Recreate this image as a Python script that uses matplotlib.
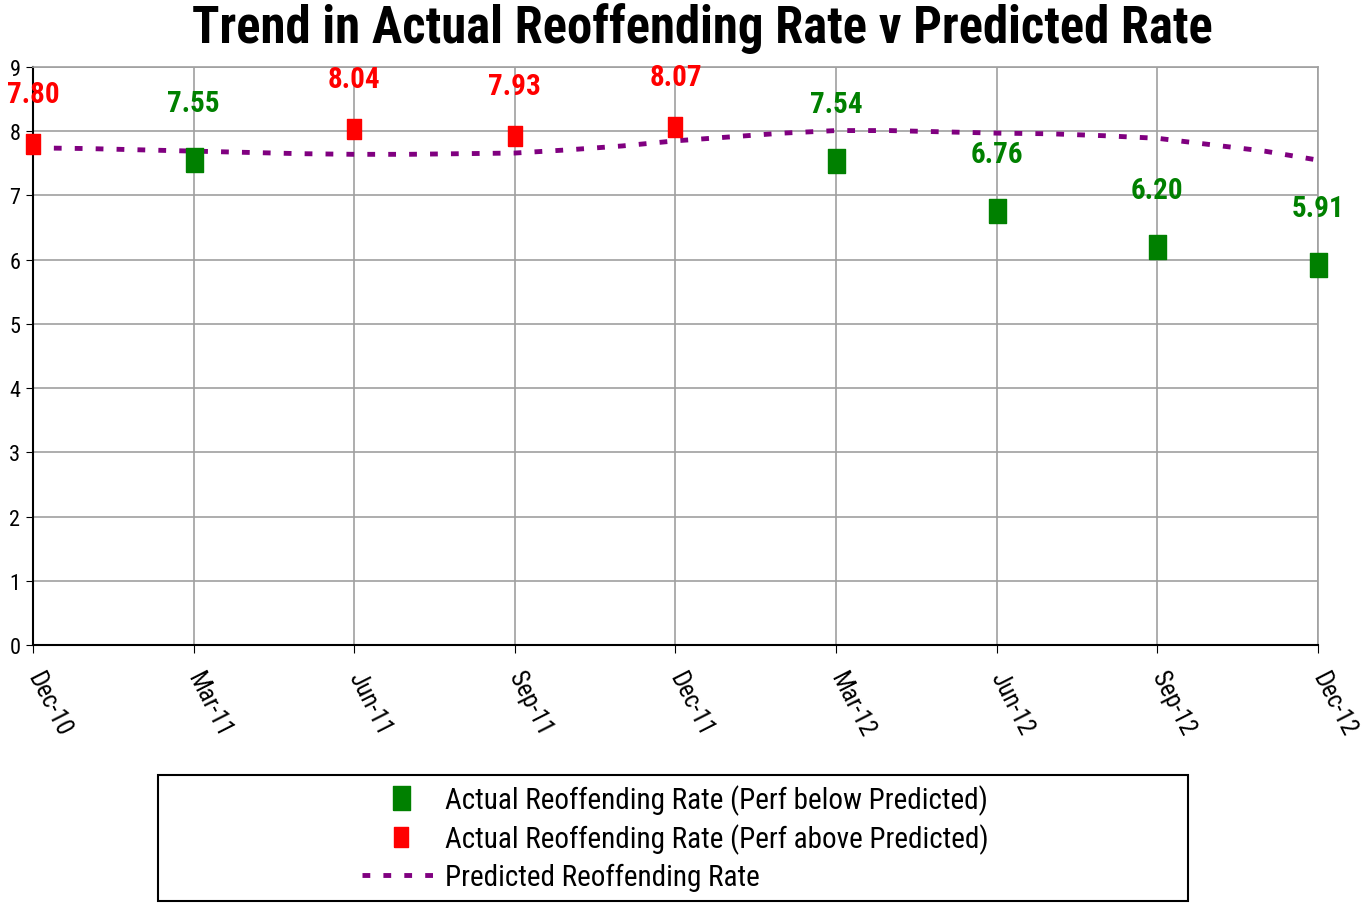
import matplotlib.pyplot as plt
from matplotlib.patches import Rectangle

plt.rcParams['font.family'] = ['Roboto Condensed', 'Liberation Sans', 'DejaVu Sans']

quarters = ["Dec-10", "Mar-11", "Jun-11", "Sep-11", "Dec-11", "Mar-12", "Jun-12", "Sep-12", "Dec-12"]
actual = [7.80, 7.55, 8.04, 7.93, 8.07, 7.54, 6.76, 6.20, 5.91]
above = [True, False, True, True, True, False, False, False, False]

# predicted rate, monthly Dec-10 .. Dec-12
predicted = [7.74, 7.73, 7.71, 7.69, 7.67, 7.65, 7.64, 7.64, 7.65, 7.66, 7.71, 7.77, 7.85,
             7.91, 7.97, 8.01, 8.01, 7.99, 7.97, 7.96, 7.93, 7.89, 7.79, 7.69, 7.55]

GREEN = '#008000'
RED = '#ff0000'
PURPLE = '#800080'

box = [(-0.36, -0.5), (0.36, -0.5), (0.36, 0.5), (-0.36, 0.5), (-0.36, -0.5)]

fig = plt.figure(figsize=(13.62, 9.04), dpi=100)
ax = fig.add_axes([0.0242, 0.2854, 0.9435, 0.6394])

xq = list(range(len(quarters)))
xm = [i / 3 for i in range(len(predicted))]

ax.plot(xm, predicted, color=PURPLE, lw=3.5, linestyle=(0, (1.6, 2.7)),
        label='Predicted Reoffending Rate', zorder=3)

xg = [x for x, a in zip(xq, above) if not a]
yg = [v for v, a in zip(actual, above) if not a]
xr = [x for x, a in zip(xq, above) if a]
yr = [v for v, a in zip(actual, above) if a]

ax.plot(xg, yg, linestyle='none', marker=box, ms=17, color=GREEN, mec=GREEN,
        label='Actual Reoffending Rate (Perf below Predicted)', zorder=4, clip_on=False)
ax.plot(xr, yr, linestyle='none', marker=box, ms=14, color=RED, mec=RED,
        label='Actual Reoffending Rate (Perf above Predicted)', zorder=4, clip_on=False)

for x, v, a in zip(xq, actual, above):
    ax.annotate(f"{v:.2f}", (x, v), xytext=(0, 36 if a else 41), textcoords='offset points',
                ha='center', va='center', fontsize=21, fontweight='bold',
                color=RED if a else GREEN, annotation_clip=False)

ax.set_xlim(0, 8)
ax.set_ylim(0, 9)
ax.set_yticks(range(10))
ax.set_xticks(xq)
ax.set_xticklabels(quarters, rotation=-63, ha='left', va='center',
                   rotation_mode='anchor', fontsize=18)
ax.tick_params(axis='y', labelsize=16, length=5, pad=4)
ax.tick_params(axis='x', length=6, pad=14)
ax.grid(True, color='#a0a0a0', lw=1.2)
for s in ['top', 'right']:
    ax.spines[s].set_color('#a0a0a0')
    ax.spines[s].set_linewidth(1.2)
for s in ['left', 'bottom']:
    ax.spines[s].set_color('black')
    ax.spines[s].set_linewidth(1.5)

fig.suptitle("Trend in Actual Reoffending Rate v Predicted Rate", x=0.516, y=0.969,
             fontsize=36.5, fontweight='bold', va='center')

fig.patches.append(Rectangle((0.116, 0.002), 0.756, 0.140, transform=fig.transFigure,
                             fill=False, edgecolor='black', lw=1.5))
handles, labels = ax.get_legend_handles_labels()
order = [1, 2, 0]
fig.legend([handles[i] for i in order], [labels[i] for i in order],
           loc='center', bbox_to_anchor=(0.4956, 0.072), frameon=False,
           fontsize=21, handlelength=2.7, handletextpad=0.15, labelspacing=0.3,
           borderpad=0)

fig.savefig('out.png', dpi=100)
